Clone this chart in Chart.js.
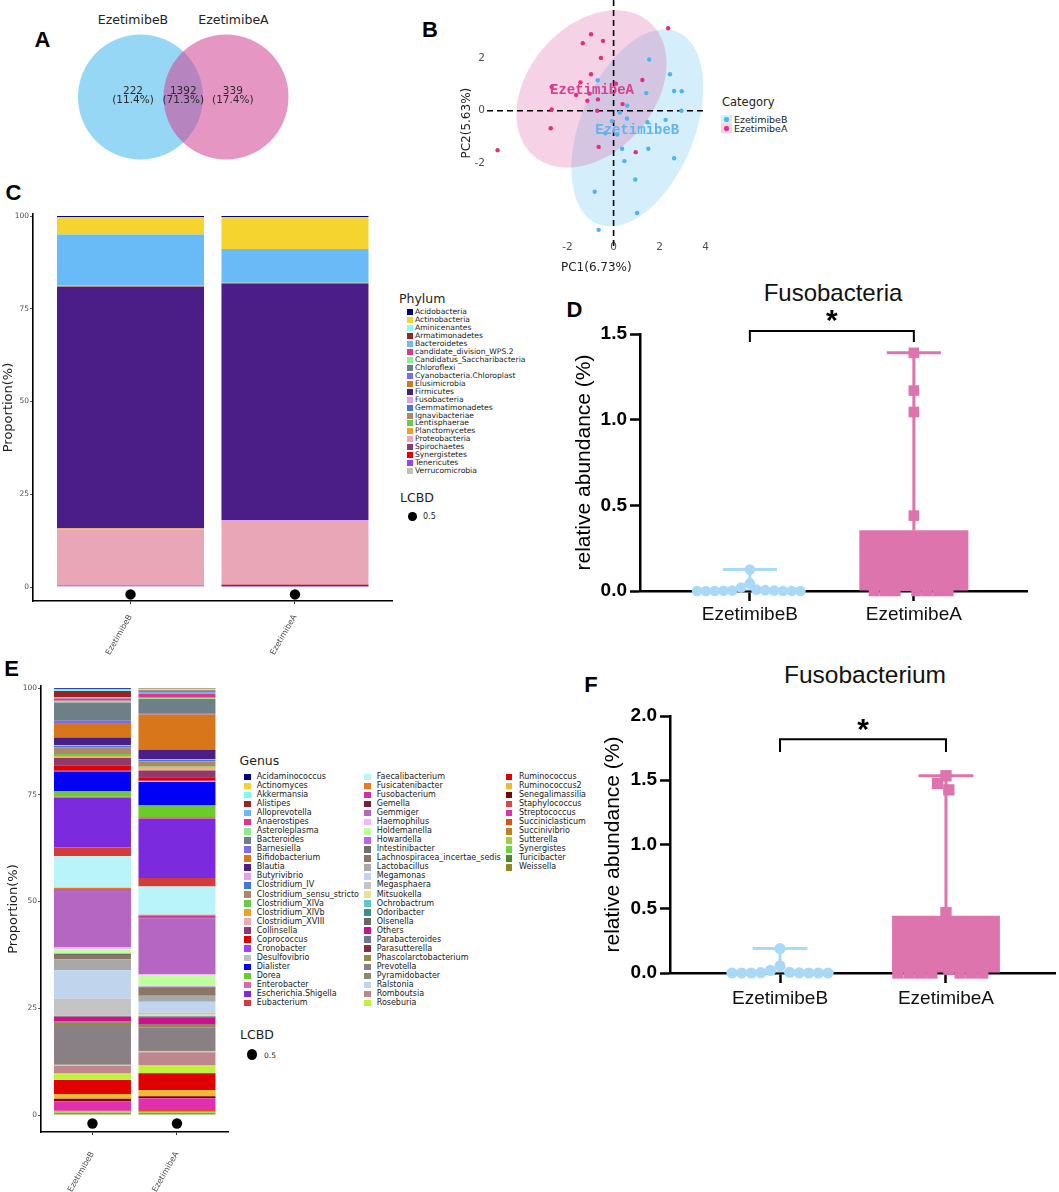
<!DOCTYPE html>
<html>
<head>
<meta charset="utf-8">
<title>Ezetimibe microbiota</title>
<script src="https://cdn.jsdelivr.net/npm/chart.js@4.4.1/dist/chart.umd.min.js"></script>
<style>
  html, body { margin: 0; padding: 0; background: #fff; }
  body { position: relative; width: 1059px; height: 1192px; overflow: hidden; font-family: "DejaVu Sans", sans-serif; color: #1a1a1a; }
  canvas { position: absolute; }
  .c { position: absolute; white-space: nowrap; line-height: 1; transform: translate(-50%, -50%); }
  .l { position: absolute; white-space: nowrap; line-height: 1; transform: translate(0, -50%); }
  .sw { position: absolute; }
</style>
</head>
<body>
<script>
// ---------- data ----------
const groups = ['EzetimibeB', 'EzetimibeA'];

// A: Venn (only B, shared, only A)
const vennCounts = [222, 1392, 339];
const vennShares = ['11.4%', '71.3%', '17.4%'];

// B: PCA scores [PC1, PC2]
const pcaB = [[1.55,1.95],[2.45,1.39],[-0.69,1.16],[2.63,0.75],[2.96,0.74],[1.42,0.67],[0.59,0.19],[0.27,-0.07],[0.58,-0.30],[-0.07,-0.40],[1.47,-0.44],[2.26,-0.35],[0.16,-0.91],[-0.36,-0.86],[0.37,-1.45],[1.51,-1.45],[0.47,-1.92],[2.63,-1.81],[0.94,-2.62],[-0.82,-3.09],[1.02,-3.90],[-0.65,-4.54],[2.95,0.00]];
const pcaA = [[2.37,3.14],[-0.98,2.91],[-1.34,2.57],[-0.46,2.66],[-0.55,2.01],[-0.98,1.39],[-1.44,1.08],[0.10,1.03],[-2.69,0.90],[1.25,1.17],[-1.05,0.65],[-1.63,0.60],[-0.68,0.43],[-1.14,0.38],[0.39,0.25],[-2.69,0.05],[-0.71,0.00],[-2.73,-0.67],[-0.65,-1.38],[0.96,-1.58],[-5.04,-1.51]];
const pcaTicksX = [-2, 0, 2, 4];
const pcaTicksY = [-2, 0, 2];

// C: phylum proportions (%), legend order
const phyla = ['Acidobacteria','Actinobacteria','Aminicenantes','Armatimonadetes','Bacteroidetes','candidate_division_WPS.2','Candidatus_Saccharibacteria','Chloroflexi','Cyanobacteria.Chloroplast','Elusimicrobia','Firmicutes','Fusobacteria','Gemmatimonadetes','Ignavibacteriae','Lentisphaerae','Planctomycetes','Proteobacteria','Spirochaetes','Synergistetes','Tenericutes','Verrucomicrobia'];
const phylumB = [0.3, 4.7, 0, 0, 13.8, 0, 0.1, 0, 0.05, 0.1, 65.14, 0.01, 0, 0, 0, 0.2, 15.2, 0.1, 0, 0.1, 0.2];
const phylumA = [0.3, 8.6, 0, 0, 9.0, 0, 0.1, 0.05, 0.05, 0.1, 63.74, 0.36, 0, 0, 0, 0.2, 16.8, 0.1, 0.4, 0.1, 0.1];
const phylumColors = ['#00007F','#F5D430','#80FFFF','#9B2226','#69BBF7','#E0368A','#90EE90','#6E7F87','#7B6BEE','#D8761B','#4B1E87','#E0A0F0','#3F78D8','#B0866A','#6CCB4A','#F0A020','#E8A6B6','#8E3B6B','#E00000','#A040F0','#C0C0C0'];
const lcbd = [0.5, 0.5];
const proportionTicks = [0, 25, 50, 75, 100];

// E: genus proportions (%), legend order
const genera = ['Acidaminococcus','Actinomyces','Akkermansia','Alistipes','Alloprevotella','Anaerostipes','Asteroleplasma','Bacteroides','Barnesiella','Bifidobacterium','Blautia','Butyrivibrio','Clostridium_IV','Clostridium_sensu_stricto','Clostridium_XlVa','Clostridium_XlVb','Clostridium_XVIII','Collinsella','Coprococcus','Cronobacter','Desulfovibrio','Dialister','Dorea','Enterobacter','Escherichia.Shigella','Eubacterium',
  'Faecalibacterium','Fusicatenibacter','Fusobacterium','Gemella','Gemmiger','Haemophilus','Holdemanella','Howardella','Intestinibacter','Lachnospiracea_incertae_sedis','Lactobacillus','Megamonas','Megasphaera','Mitsuokella','Ochrobactrum','Odoribacter','Olsenella','Others','Parabacteroides','Parasutterella','Phascolarctobacterium','Prevotella','Pyramidobacter','Ralstonia','Romboutsia','Roseburia',
  'Ruminococcus','Ruminococcus2','Senegalimassilia','Staphylococcus','Streptococcus','Succiniclasticum','Succinivibrio','Sutterella','Synergistes','Turicibacter','Weissella'];
const genusB = [0.2,0.2,0.2,1.5,0.3,0.5,0.4,4.3,0.5,3.4,1.8,0.2,0.3,1.6,0.5,0.2,0.2,1.8,1.2,0.1,0.1,4.6,1.3,0.3,11.6,2.0,
  7.4,0.4,0.02,0.1,13.5,0.4,1.0,0.1,0.2,1.0,2.6,6.6,3.9,0.1,0.1,0.1,0.1,1.1,0.2,0.1,0.5,9.3,0.2,0.1,1.8,1.5,
  3.3,1.1,0.5,0.1,2.2,0.1,0.1,0.3,0.1,0.2,0.2];
const genusA = [0.1,0.3,0.2,0.3,0.5,0.9,0.3,3.4,0.2,8.3,2.1,0.2,0.4,1.2,0.2,0.3,0.4,1.6,0.8,0.2,0.1,5.5,2.7,0.5,13.8,2.0,
  6.6,0.25,0.45,0.1,13.1,0.2,2.7,0.1,0.2,1.9,1.4,2.5,0.5,0.3,0.1,0.1,0.1,1.6,0.1,0.1,0.6,5.3,0.3,0.2,3.1,1.8,
  4.0,1.4,0.4,0.1,2.7,0.4,0.1,0.2,0.1,0.2,0.2];
const genusColors = ['#000080','#F5D130','#80F8F8','#9B2226','#6CB8F5','#E0368A','#8EE88E','#6E7F87','#7B6BEE','#D8761B','#4B1E87','#E0A0F0','#3F78D8','#B0866A','#6CCB4A','#F0A020','#F0A8BC','#8E3B6B','#E00000','#A040F0','#C0C0C0','#0000F5','#6CCB2A','#D86AAC','#7B2BDD','#D03C3C',
  '#B8F4FA','#E87A20','#D030A0','#7E2030','#B565C2','#F0B8F8','#C0FFA0','#C060F0','#6E6E6E','#8B7565','#A8A8A8','#C0D4EE','#C4C4C4','#EEE090','#60C8C8','#3A9088','#686868','#D0108A','#6A7A98','#803040','#8E8A48','#888085','#8C8870','#B8D8EA','#C0868E','#C0F040',
  '#E00000','#F2B830','#800000','#E04848','#E030B0','#E05010','#C08020','#A0D040','#70D040','#4A8A30','#8E8A20'];

// D: Fusobacteria relative abundance (%)
const fusobacteriaB = [0.125, 0.045, 0.02, 0.008, 0.005, 0.003, 0.002, 0.001, 0, 0, 0, 0, 0, 0];
const fusobacteriaA = [1.39, 1.17, 1.045, 0.44, 0.30, 0.22, 0.15, 0.08, 0.03, 0, 0, 0, 0, 0, 0, 0];
const fusobacteriaMean = [0.01, 0.355];
const fusobacteriaTop = [0.125, 1.39];

// F: Fusobacterium relative abundance (%)
const fusobacteriumB = [0.19, 0.055, 0.02, 0.006, 0.003, 0.001, 0, 0, 0, 0, 0, 0];
const fusobacteriumA = [1.535, 1.475, 1.425, 0.47, 0.35, 0.25, 0.15, 0.08, 0.03, 0, 0, 0, 0, 0, 0, 0];
const fusobacteriumMean = [0.015, 0.445];
const fusobacteriumTop = [0.19, 1.535];

// ---------- helpers ----------
Chart.defaults.animation = false;
Chart.defaults.events = [];
Chart.defaults.plugins.legend.display = false;
Chart.defaults.plugins.tooltip.enabled = false;
Chart.defaults.font.family = 'DejaVu Sans';
Chart.defaults.color = '#222';

function makeCanvas(left, top, w, h) {
  const c = document.createElement('canvas');
  c.width = w; c.height = h;
  c.style.left = left + 'px'; c.style.top = top + 'px';
  c.style.width = w + 'px'; c.style.height = h + 'px';
  document.body.appendChild(c);
  return c;
}
function txt(s, x, y, css, cls) {
  const d = document.createElement('div');
  d.className = cls || 'c';
  d.textContent = s;
  d.style.left = x + 'px'; d.style.top = y + 'px';
  Object.assign(d.style, css || {});
  document.body.appendChild(d);
  return d;
}
function box(x, y, w, h, bg, extra) {
  const d = document.createElement('div');
  d.className = 'sw';
  Object.assign(d.style, { left: x + 'px', top: y + 'px', width: w + 'px', height: h + 'px', background: bg }, extra || {});
  document.body.appendChild(d);
}

// panel letters
const letterCss = { fontFamily: 'Liberation Sans', fontWeight: 'bold', fontSize: '22px', color: '#000' };
txt('A', 42.5, 40, letterCss);
txt('B', 430, 30, letterCss);
txt('C', 13.5, 192.5, letterCss);
txt('D', 574.5, 310, letterCss);
txt('E', 11.5, 668.5, letterCss);
txt('F', 591, 684.5, letterCss);

// ---------- A: Venn ----------
txt(groups[0], 133, 19.5, { fontSize: '12.5px', color: '#222' });
txt(groups[1], 233.5, 19.5, { fontSize: '12.5px', color: '#222' });

const vennText = {
  id: 'vennText',
  afterDatasetsDraw(chart) {
    const { ctx, scales: { x, y } } = chart;
    const spots = [-0.088, 0.5, 1.08];
    ctx.save();
    ctx.font = '10.5px "DejaVu Sans"';
    ctx.fillStyle = '#2a2a2a';
    ctx.textAlign = 'center';
    ctx.textBaseline = 'middle';
    vennCounts.forEach((n, i) => {
      const px = x.getPixelForValue(spots[i]);
      ctx.fillText(String(n), px, y.getPixelForValue(0) - 5.5);
      ctx.fillText('(' + vennShares[i] + ')', px, y.getPixelForValue(0) + 3.5);
    });
    ctx.restore();
  }
};
new Chart(makeCanvas(0, 0, 380, 194), {
  type: 'scatter',
  data: {
    datasets: [
      { label: groups[0], data: [{ x: 0, y: 0 }], pointRadius: 62.5, backgroundColor: 'rgba(64,182,237,0.55)', borderWidth: 0, order: 2 },
      { label: groups[1], data: [{ x: 1, y: 0 }], pointRadius: 62.5, backgroundColor: 'rgba(210,64,146,0.55)', borderWidth: 0, order: 1 }
    ]
  },
  options: {
    responsive: false,
    layout: { padding: 0, autoPadding: false },
    scales: {
      x: { type: 'linear', display: false, min: -1.643, max: 2.801 },
      y: { type: 'linear', display: false, min: -1, max: 1 }
    }
  },
  plugins: [vennText]
});

// ---------- B: PCA ----------
const pcaPoint = ['#4fb3ee', '#e0307f'];
const pcaFill = ['rgba(85,190,240,0.25)', 'rgba(215,75,150,0.25)'];
const pcaLabel = ['#62b4ec', '#d8418f'];

// robust (multivariate t) location / scatter, as used for a 95% "t" ellipse
function trobEllipse(pts, nu = 5, level = 0.95) {
  const n = pts.length, p = 2;
  let mx = pts.reduce((s, q) => s + q[0], 0) / n;
  let my = pts.reduce((s, q) => s + q[1], 0) / n;
  let w = pts.map(() => 1);
  for (let it = 0; it < 25; it++) {
    const sw = w.reduce((a, b) => a + b, 0);
    let a = 0, b = 0, c = 0;
    pts.forEach((q, i) => { const dx = q[0] - mx, dy = q[1] - my; a += w[i] * dx * dx / sw; b += w[i] * dx * dy / sw; c += w[i] * dy * dy / sw; });
    const det = a * c - b * b;
    const w0 = w;
    w = pts.map(q => {
      const dx = q[0] - mx, dy = q[1] - my;
      const Q = (c * dx * dx - 2 * b * dx * dy + a * dy * dy) / det;
      return (nu + p) / (nu + Q);
    });
    const sw2 = w.reduce((s, v) => s + v, 0);
    mx = pts.reduce((s, q, i) => s + w[i] * q[0], 0) / sw2;
    my = pts.reduce((s, q, i) => s + w[i] * q[1], 0) / sw2;
    if (w.every((v, i) => Math.abs(v - w0[i]) < 0.01)) break;
  }
  let a = 0, b = 0, c = 0;
  pts.forEach((q, i) => { const dx = q[0] - mx, dy = q[1] - my; a += w[i] * dx * dx / n; b += w[i] * dx * dy / n; c += w[i] * dy * dy / n; });
  const d = n - 1;
  const qf = (d / 2) * (Math.pow(1 - level, -2 / d) - 1);
  return { mx, my, a, b, c, r: Math.sqrt(2 * qf) };
}
function centroid(pts) {
  return [pts.reduce((s, q) => s + q[0], 0) / pts.length, pts.reduce((s, q) => s + q[1], 0) / pts.length];
}

const pcaDecor = {
  id: 'pcaDecor',
  beforeDatasetsDraw(chart) {
    const { ctx, chartArea, scales: { x, y } } = chart;
    ctx.save();
    [pcaB, pcaA].forEach((pts, g) => {
      const e = trobEllipse(pts);
      const r11 = Math.sqrt(e.a), r12 = e.b / r11, r22 = Math.sqrt(e.c - r12 * r12);
      ctx.beginPath();
      for (let i = 0; i <= 120; i++) {
        const t = i / 120 * Math.PI * 2;
        const u = Math.cos(t), v = Math.sin(t);
        const px = x.getPixelForValue(e.mx + e.r * u * r11);
        const py = y.getPixelForValue(e.my + e.r * (u * r12 + v * r22));
        if (i === 0) ctx.moveTo(px, py); else ctx.lineTo(px, py);
      }
      ctx.closePath();
      ctx.fillStyle = pcaFill[g];
      ctx.fill();
    });
    ctx.strokeStyle = '#000';
    ctx.lineWidth = 1.6;
    ctx.setLineDash([6, 4]);
    const x0 = x.getPixelForValue(0), y0 = y.getPixelForValue(0);
    ctx.beginPath(); ctx.moveTo(x0, 0); ctx.lineTo(x0, chartArea.bottom + 10); ctx.stroke();
    ctx.beginPath(); ctx.moveTo(chartArea.left, y0); ctx.lineTo(chartArea.right, y0); ctx.stroke();
    ctx.restore();
  },
  afterDatasetsDraw(chart) {
    const { ctx, scales: { x, y } } = chart;
    ctx.save();
    ctx.font = 'bold 14px "Liberation Mono"';
    ctx.textAlign = 'center';
    ctx.textBaseline = 'middle';
    [pcaB, pcaA].forEach((pts, g) => {
      const m = centroid(pts);
      ctx.fillStyle = pcaLabel[g];
      ctx.fillText(groups[g], x.getPixelForValue(m[0]), y.getPixelForValue(m[1]));
    });
    ctx.restore();
  }
};
new Chart(makeCanvas(455, 0, 257, 275), {
  type: 'scatter',
  data: {
    datasets: [pcaB, pcaA].map((pts, g) => ({
      label: groups[g],
      data: pts.map(p => ({ x: p[0], y: p[1] })),
      pointRadius: 2.2, backgroundColor: pcaPoint[g], borderWidth: 0
    }))
  },
  options: {
    responsive: false,
    layout: { padding: { left: 0, right: 5, top: 0, bottom: 0 }, autoPadding: false },
    scales: {
      x: {
        type: 'linear', min: -5.5, max: 4,
        afterBuildTicks: s => { s.ticks = pcaTicksX.map(v => ({ value: v })); },
        ticks: { font: { size: 10.5 }, color: '#4d4d4d', padding: 3, maxRotation: 0 },
        grid: { display: false, drawTicks: false },
        border: { display: false },
        title: { display: true, text: 'PC1(6.73%)', font: { size: 12 }, color: '#222', padding: 0 },
        afterFit: s => { s.height = 37; }
      },
      y: {
        type: 'linear', min: -4.85, max: 3.9,
        afterBuildTicks: s => { s.ticks = pcaTicksY.map(v => ({ value: v })); },
        ticks: { font: { size: 10.5 }, color: '#4d4d4d', padding: 2 },
        grid: { display: false, drawTicks: false },
        border: { display: false },
        title: { display: true, text: 'PC2(5.63%)', font: { size: 12 }, color: '#222', padding: { top: 4.5, bottom: 0 } },
        afterFit: s => { s.width = 32; }
      }
    }
  },
  plugins: [pcaDecor]
});
// PCA legend
txt('Category', 722, 103, { fontSize: '11.5px', color: '#222' }, 'l');
[0, 1].forEach(g => {
  const cy = 119.5 + g * 9;
  box(721, cy - 4.5, 11, 9, pcaFill[g]);
  box(724.3, cy - 2.2, 4.4, 4.4, pcaPoint[g], { borderRadius: '50%' });
  txt(groups[g], 734, cy, { fontSize: '9.5px', color: '#222' }, 'l');
});

// ---------- C / E: stacked proportion bars ----------
const lcbdY = -2;
function stackChart(o) {
  const datasets = o.names.map((n, i) => ({
    type: 'bar', label: n,
    data: [{ x: 0, y: o.B[i] }, { x: 1, y: o.A[i] }],
    backgroundColor: o.colors[i], borderWidth: 0,
    barPercentage: o.barPct, categoryPercentage: 1, stack: 's'
  })).reverse();
  datasets.push({
    type: 'scatter', label: 'LCBD', stack: 'lcbd',
    data: lcbd.map((v, i) => ({ x: i, y: lcbdY })),
    pointRadius: 5.2, backgroundColor: '#000', borderWidth: 0, clip: false
  });
  return new Chart(makeCanvas(...o.canvas), {
    data: { datasets },
    options: {
      responsive: false,
      layout: { padding: { left: 0, right: o.padRight, top: o.padTop, bottom: 0 }, autoPadding: false },
      scales: {
        x: {
          type: 'linear', min: o.xMin, max: o.xMax, stacked: true, offset: false,
          afterBuildTicks: s => { s.ticks = groups.map((g, i) => ({ value: i })); },
          ticks: { callback: v => groups[v], font: { size: 8 }, color: '#4d4d4d', minRotation: 60, maxRotation: 60, padding: o.xPad },
          grid: { display: true, offset: false, drawOnChartArea: false, drawTicks: true, tickLength: 3, color: '#333', tickWidth: 1 },
          border: { display: true, color: '#000', width: 1.6 },
          afterFit: s => { s.height = o.xHeight; }
        },
        y: {
          type: 'linear', min: o.yMin, max: o.yMax, stacked: true,
          afterBuildTicks: s => { s.ticks = proportionTicks.map(v => ({ value: v })); },
          ticks: { font: { size: 7.5 }, color: '#4d4d4d', padding: 1 },
          grid: { display: true, drawOnChartArea: false, drawTicks: true, tickLength: 3, color: '#555', tickWidth: 1 },
          border: { display: true, color: '#000', width: 1.6 },
          title: { display: true, text: 'Proportion(%)', font: { size: 13 }, color: '#222', padding: { top: o.titlePad, bottom: 0 } },
          afterFit: s => { s.width = o.yWidth; }
        }
      }
    }
  });
}

stackChart({ canvas: [0, 204, 395, 456], padTop: 10, padRight: 3, yWidth: 33, xHeight: 59,
  yMin: -3.77, yMax: 100.54, xMin: -0.593, xMax: 1.590, barPct: 0.894, xPad: 9, titlePad: 0.7,
  names: phyla, B: phylumB, A: phylumA, colors: phylumColors });
stackChart({ canvas: [0, 676, 235, 516], padTop: 10, padRight: 7, yWidth: 41, xHeight: 60,
  yMin: -3.98, yMax: 100.47, xMin: -0.609, xMax: 1.604, barPct: 0.911, xPad: 15, titlePad: 5.5,
  names: genera, B: genusB, A: genusA, colors: genusColors });

function legend(names, colors, o) {
  names.forEach((n, i) => {
    const col = Math.floor(i / o.perCol), row = i % o.perCol;
    const y = o.y0 + row * o.dy;
    box(o.swX[col], y - o.sw / 2, o.sw, o.sw, colors[i]);
    txt(n, o.txtX[col], y, { fontSize: o.fs + 'px', color: '#1a1a1a' }, 'l');
  });
}
// C legend
txt('Phylum', 399, 298.5, { fontSize: '12.5px', color: '#222' }, 'l');
legend(phyla, phylumColors, { perCol: 21, y0: 312.3, dy: 7.94, sw: 6, swX: [406.5], txtX: [415], fs: 7.6 });
txt('LCBD', 400, 498.3, { fontSize: '12.5px', color: '#222' }, 'l');
box(408, 511.5, 9, 9.5, '#000', { borderRadius: '50%' });
txt('0.5', 423, 517.3, { fontSize: '8px', color: '#222' }, 'l');
// E legend
txt('Genus', 239.5, 761, { fontSize: '12.5px', color: '#222' }, 'l');
legend(genera, genusColors, { perCol: 26, y0: 777, dy: 9.04, sw: 6.6, swX: [244, 364, 505.5], txtX: [256.7, 376.7, 519], fs: 8 });
txt('LCBD', 240, 1035, { fontSize: '12.5px', color: '#222' }, 'l');
box(247, 1049, 10, 10.5, '#000', { borderRadius: '50%' });
txt('0.5', 264, 1056, { fontSize: '7.5px', color: '#222' }, 'l');

// ---------- D / F: relative abundance ----------
const abBlue = '#a9d9f7';
const abPink = '#de74ae';

const abundanceDecor = {
  id: 'abundanceDecor',
  afterDatasetsDraw(chart, args, o) {
    const { ctx, scales: { x, y } } = chart;
    ctx.save();
    ctx.lineWidth = 3;
    o.means.forEach((m, i) => {
      const cx = x.getPixelForValue(i);
      ctx.strokeStyle = o.colors[i];
      ctx.beginPath();
      ctx.moveTo(cx, y.getPixelForValue(m));
      ctx.lineTo(cx, y.getPixelForValue(o.top[i]));
      ctx.moveTo(x.getPixelForValue(i - o.cap), y.getPixelForValue(o.top[i]));
      ctx.lineTo(x.getPixelForValue(i + o.cap), y.getPixelForValue(o.top[i]));
      ctx.stroke();
    });
    // significance bracket
    const x0 = x.getPixelForValue(0), x1 = x.getPixelForValue(1);
    const yt = y.getPixelForValue(o.bracket), yd = y.getPixelForValue(o.drop);
    ctx.strokeStyle = '#000';
    ctx.lineWidth = 2;
    ctx.beginPath();
    ctx.moveTo(x0, yd); ctx.lineTo(x0, yt); ctx.lineTo(x1, yt); ctx.lineTo(x1, yd);
    ctx.stroke();
    ctx.fillStyle = '#000';
    ctx.font = 'bold 30px "Liberation Sans"';
    ctx.textAlign = 'center';
    ctx.textBaseline = 'alphabetic';
    ctx.fillText('*', (x0 + x1) / 2, y.getPixelForValue(o.star) + 17);
    ctx.restore();
  }
};

function swarm(chart, dsIndex, center, diam) {
  const xs = chart.scales.x, ys = chart.scales.y;
  const cx = xs.getPixelForValue(center);
  const placed = [];
  chart.data.datasets[dsIndex].data.forEach(p => {
    const py = ys.getPixelForValue(p.y);
    let off = 0;
    for (let k = 0; k < 400; k++) {
      const cand = (k % 2 ? -1 : 1) * Math.ceil(k / 2) * diam / 4;
      if (placed.every(q => (q.x - cand) ** 2 + (q.y - py) ** 2 >= diam * diam - 0.01)) { off = cand; break; }
    }
    placed.push({ x: off, y: py });
    p.x = xs.getValueForPixel(cx + off);
  });
}

function abundanceChart(o) {
  const chart = new Chart(makeCanvas(...o.canvas), {
    data: {
      datasets: [
        { type: 'bar', data: o.means.map((m, i) => ({ x: i, y: m })), backgroundColor: [abBlue, abPink],
          barPercentage: o.barPct, categoryPercentage: 1, borderWidth: 0, order: 2 },
        { type: 'scatter', data: o.B.map(v => ({ x: 0, y: v })), pointStyle: 'circle', pointRadius: o.rB,
          backgroundColor: abBlue, borderWidth: 0, clip: false, order: 1 },
        { type: 'scatter', data: o.A.map(v => ({ x: 1, y: v })), pointStyle: 'rect', pointRadius: o.rA,
          backgroundColor: abPink, borderWidth: 0, clip: false, order: 1 }
      ]
    },
    options: {
      responsive: false,
      layout: { padding: { left: 0, right: o.padRight, top: o.padTop, bottom: 0 }, autoPadding: false },
      scales: {
        x: {
          type: 'linear', min: o.xMin, max: o.xMax, offset: false,
          afterBuildTicks: s => { s.ticks = groups.map((g, i) => ({ value: i })); },
          ticks: { callback: v => groups[v], font: { family: 'Liberation Sans', size: 19 }, color: '#111', maxRotation: 0, padding: o.xPad },
          grid: { display: true, offset: false, drawOnChartArea: false, drawTicks: true, tickLength: 10, tickWidth: 2.5, color: '#000' },
          border: { display: true, color: '#000', width: 2.5 },
          afterFit: s => { s.height = o.xHeight; }
        },
        y: {
          type: 'linear', min: 0, max: o.yMax,
          afterBuildTicks: s => { s.ticks = o.yTicks.map(v => ({ value: v })); },
          ticks: { callback: v => v.toFixed(1), font: { family: 'Liberation Sans', size: 19, weight: 'bold' }, color: '#000', padding: 3 },
          grid: { display: true, drawOnChartArea: false, drawTicks: true, tickLength: 10, tickWidth: 2.5, color: '#000' },
          border: { display: true, color: '#000', width: 2.5 },
          title: { display: true, text: 'relative abundance (%)', font: { family: 'Liberation Sans', size: 21 }, color: '#000', padding: { top: o.titlePad, bottom: 0 } },
          afterFit: s => { s.width = o.yWidth; }
        }
      },
      plugins: {
        abundanceDecor: { means: o.means, top: o.top, colors: [abBlue, abPink], cap: 0.165,
          bracket: o.bracket, drop: o.drop, star: o.star }
      }
    },
    plugins: [abundanceDecor]
  });
  swarm(chart, 1, 0, o.gapB);
  swarm(chart, 2, 1, o.rA * Math.SQRT2);
  chart.update();
  return chart;
}

txt('Fusobacteria', 833, 293, { fontFamily: 'Liberation Sans', fontSize: '24px', color: '#111' });
abundanceChart({ canvas: [560, 280, 499, 360], padTop: 54, padRight: 32, yWidth: 80, xHeight: 49,
  xMin: -0.67, xMax: 1.69, yMax: 1.5, yTicks: [0, 0.5, 1.0, 1.5], barPct: 0.665, xPad: 2.6, titlePad: 11.4,
  B: fusobacteriaB, A: fusobacteriaA, means: fusobacteriaMean, top: fusobacteriaTop,
  rB: 5.3, gapB: 8.8, rA: 7.5, bracket: 1.517, drop: 1.453, star: 1.62 });

txt('Fusobacterium', 865, 675, { fontFamily: 'Liberation Sans', fontSize: '24.5px', color: '#111' });
abundanceChart({ canvas: [580, 660, 479, 370], padTop: 56, padRight: 4, yWidth: 90, xHeight: 57,
  xMin: -0.663, xMax: 1.657, yMax: 2.0, yTicks: [0, 0.5, 1.0, 1.5, 2.0], barPct: 0.65, xPad: 3.9, titlePad: 20.4,
  B: fusobacteriumB, A: fusobacteriumA, means: fusobacteriumMean, top: fusobacteriumTop,
  rB: 5.6, gapB: 9.6, rA: 8, bracket: 1.82, drop: 1.72, star: 1.95 });
</script>
</body>
</html>
